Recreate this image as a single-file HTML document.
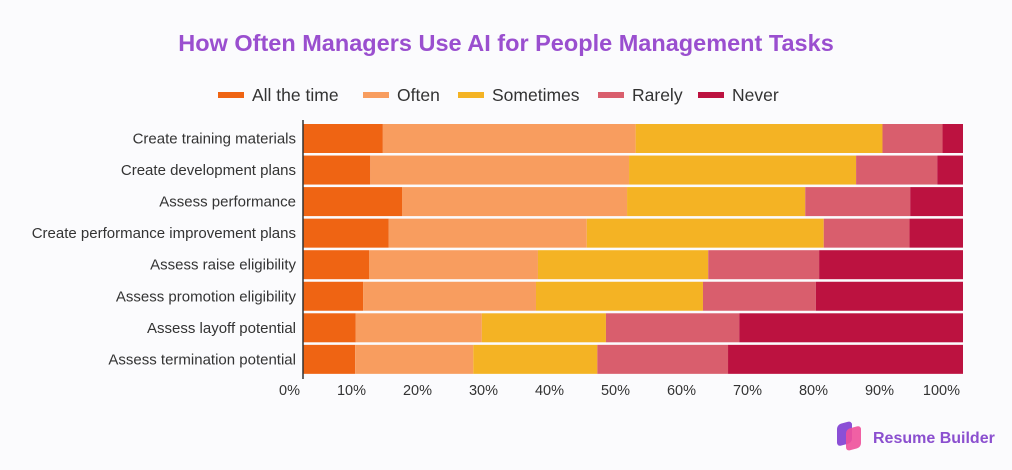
<!DOCTYPE html>
<html><head><meta charset="utf-8"><style>
body{margin:0;width:1012px;height:465px;background:#fbfbfd;font-family:"Liberation Sans",sans-serif;overflow:hidden}
</style></head><body>
<svg width="1012" height="465" id="svg">
<text x="506" y="51" text-anchor="middle" font-size="23.5" font-weight="bold" fill="#9a4fcf">How Often Managers Use AI for People Management Tasks</text>
<g id="legend"></g>
<g id="bars"></g>
<g id="axis"></g>
<g>
<rect x="837" y="423" width="15" height="22" rx="4" fill="#8b4fd6" transform="skewY(-15) translate(0,226)"/>
<rect x="846" y="428" width="15" height="22" rx="4" fill="#ee4f9a" opacity="0.9" transform="skewY(-15) translate(0,228)"/>
<text x="873" y="443" font-size="16" font-weight="bold" fill="#8b4fcf">Resume Builder</text>
</g>
</svg>
<script>
const categories=["Create training materials","Create development plans","Assess performance","Create performance improvement plans","Assess raise eligibility","Assess promotion eligibility","Assess layoff potential","Assess termination potential"];
const seriesNames=["All the time","Often","Sometimes","Rarely","Never"];
const allTheTime=[12.1,10.2,15.0,13.0,10.0,9.1,8.0,7.9];
const often=[38.3,39.2,34.1,30.0,25.6,26.2,19.1,17.9];
const sometimes=[37.4,34.4,27.0,35.9,25.8,25.3,18.8,18.8];
const rarely=[9.1,12.3,15.9,13.0,16.8,17.1,20.2,19.8];
const never=[3.1,3.9,8.0,8.1,21.8,22.3,33.9,35.6];
const ticks=[0,10,20,30,40,50,60,70,80,90,100];
const colors=["#ef6413","#f89d5f","#f4b324","#d95e6d","#bc1240"];
const NS="http://www.w3.org/2000/svg";
const x=v=>303+v*6.6;
const y=i=>124+i*31.55;
const bh=29;
function el(t,a,p){const e=document.createElementNS(NS,t);for(const k in a)e.setAttribute(k,a[k]);p.appendChild(e);return e;}
const series=[allTheTime,often,sometimes,rarely,never];
const bars=document.getElementById('bars');
categories.forEach((c,i)=>{
  let acc=0;
  series.forEach((s,j)=>{
    const r=el('rect',{x:x(acc),y:y(i),width:s[i]*6.6,height:bh,fill:colors[j]},bars);
    
    
    acc+=s[i];
  });
  const t=el('text',{x:296,y:y(i)+bh/2+5,'text-anchor':'end','font-size':'15',fill:'#333'},bars);
  t.textContent=c;
  
  
});
const ax=document.getElementById('axis');
const l=el('line',{x1:303,x2:303,y1:120,y2:379,stroke:'#333','stroke-width':1.5},ax);


ticks.forEach(v=>{
  const t=el('text',{x:v==0?300:x(v)-3,y:395,'text-anchor':'end','font-size':'14.5',fill:'#333'},ax);
  t.textContent=v+'%';
  
  
});
const lg=document.getElementById('legend');
const lx=[218,363,458,598,698];
seriesNames.forEach((n,j)=>{
  const r=el('rect',{x:lx[j],y:92,width:26,height:6,fill:colors[j]},lg);
  
  
  const t=el('text',{x:lx[j]+34,y:101,'font-size':'17.5',fill:'#333'},lg);
  t.textContent=n;
  
  
});
</script>
</body></html>
